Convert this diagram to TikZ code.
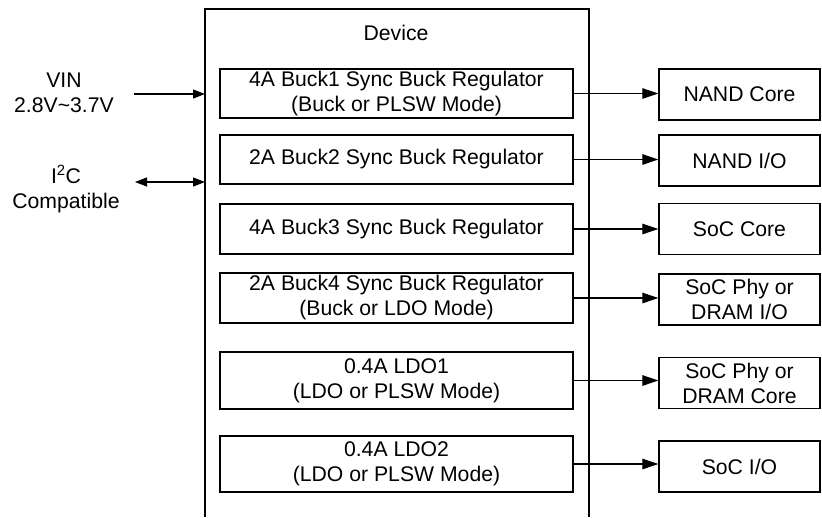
\documentclass[tikz,border=0pt]{standalone}
\usepackage{fontspec}
\setmainfont{Liberation Sans}
\usetikzlibrary{arrows.meta}

\begin{document}
\begin{tikzpicture}[x=1pt,y=-1pt,
        every node/.style={font=\fontsize{21.2}{25}\selectfont},
        regbox/.style={draw, line width=1.3pt, minimum width=353pt, align=center, inner sep=0pt},
        loadbox/.style={draw, line width=1.3pt, minimum width=161pt, minimum height=51pt, align=center, inner sep=0pt},
        inarrow/.style={line width=1.1pt, -{Triangle[length=12pt,width=9pt]}},
        busarrow/.style={line width=1.1pt, {Triangle[length=12pt,width=9pt]}-{Triangle[length=12pt,width=9pt]}},
        outarrow/.style={line width=1.1pt, -{Triangle[length=16pt,width=10.5pt]}}]
        \useasboundingbox (0,0) rectangle (822,517);
        % device outline, open at the bottom
        \coordinate (devtl) at (205,9);
        \coordinate (devtr) at (589,9);
        \draw[line width=2pt] (205,517) -- (devtl) -- (devtr) -- (589,517);
        \node (device) at (396,33) {Device};
        %%% regulators
        \node[regbox, minimum height=49pt] (buck1) at (396.5,93.5) {4A Buck1 Sync Buck Regulator\\(Buck or PLSW Mode)};
        \node[regbox, minimum height=49pt] (buck2) at (396.5,159.5) {2A Buck2 Sync Buck Regulator};
        \node[regbox, minimum height=50pt] (buck3) at (396.5,229) {4A Buck3 Sync Buck Regulator};
        \node[regbox, minimum height=50pt] (buck4) at (396.5,298) {2A Buck4 Sync Buck Regulator\\(Buck or LDO Mode)};
        \node[regbox, minimum height=57pt] (ldo1) at (396.5,380.5) {0.4A LDO1\\(LDO or PLSW Mode)};
        \node[regbox, minimum height=56pt] (ldo2) at (396.5,464) {0.4A LDO2\\(LDO or PLSW Mode)};
        %%% loads
        \node[loadbox] (nandcore) at (739.5,94.5) {NAND Core};
        \node[loadbox] (nandio) at (739.5,160.5) {NAND I/O};
        \node[loadbox] (soccore) at (739.5,229) {SoC Core};
        \node[loadbox] (dramio) at (739.5,299.5) {SoC Phy or\\DRAM I/O};
        \node[loadbox] (dramcore) at (739.5,383) {SoC Phy or\\DRAM Core};
        \node[loadbox] (socio) at (739.5,466.5) {SoC I/O};
        \draw[outarrow] (buck1) -- (buck1 -| nandcore.west);
        \draw[outarrow] (buck2) -- (buck2 -| nandio.west);
        \draw[outarrow] (buck3) -- (buck3 -| soccore.west);
        \draw[outarrow] (buck4) -- (buck4 -| dramio.west);
        \draw[outarrow] (ldo1) -- (ldo1 -| dramcore.west);
        \draw[outarrow] (ldo2) -- (ldo2 -| socio.west);
        %%% inputs
        \node[align=center] (vin) at (64,93) {VIN\\2.8V\textasciitilde 3.7V};
        \node[align=center] (i2c) at (66,189) {I\textsuperscript{2}C\\Compatible};
        \coordinate (vinin) at (134,94);
        \coordinate (i2cin) at (135,182);
        \draw[inarrow] (vinin) -- (vinin -| devtl);
        \draw[busarrow] (i2cin) -- (i2cin -| devtl);
\end{tikzpicture}
\end{document}
